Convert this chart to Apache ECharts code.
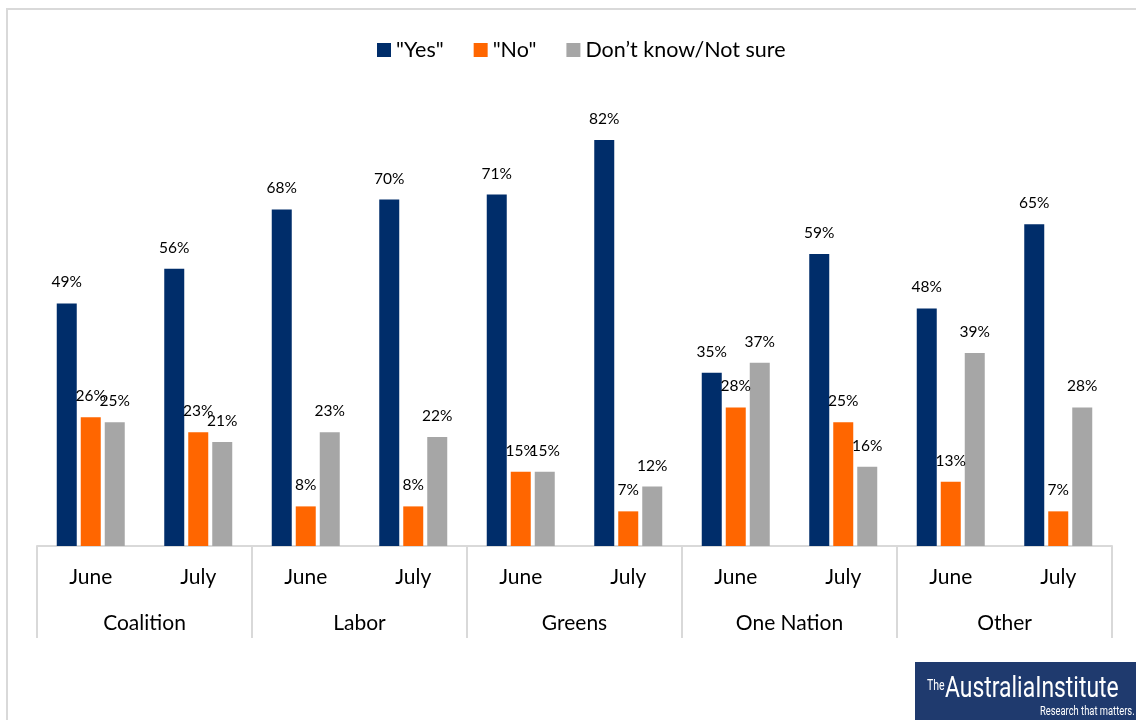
<!DOCTYPE html>
<html><head><meta charset="utf-8">
<script src="https://cdn.jsdelivr.net/npm/echarts@6/dist/echarts.min.js"></script>
<style>html,body{margin:0;padding:0;background:#fff}#c{width:1136px;height:720px}</style>
</head><body><div id="c"></div>
<script>
const months = ['June','July','June','July','June','July','June','July','June','July'];
const parties = ['Coalition','Labor','Greens','One Nation','Other'];
const yesVals = [49,56,68,70,71,82,35,59,48,65];
const noVals = [26,23,8,8,15,7,28,25,13,7];
const dkVals = [25,21,23,22,15,12,37,16,39,28];
const seriesNames = ['"Yes"','"No"','Don\u2019t know/Not sure'];
const colors = ['#002D6A','#FF6600','#A6A6A6'];

const chart = echarts.init(document.getElementById('c'), null, {renderer:'canvas'});
const FONT = 'Lato, "Open Sans", sans-serif';
function mk(name, data, color){
  return {
    name, type:'bar', data, barWidth:20, barGap:'20%',
    itemStyle:{color},
    label:{show:true, position:'top', distance:13, formatter:'{c}%', color:'#000', fontSize:15.5, fontFamily:FONT},
    silent:true, animation:false
  };
}
chart.setOption({
  animation:false,
  textStyle:{fontFamily:FONT},
  legend:{
    top:34, left:372, itemWidth:14, itemHeight:14, itemGap:30,
    icon:'rect',
    textStyle:{fontSize:21.5, color:'#000', fontFamily:FONT},
    data:seriesNames
  },
  grid:{left:37, right:24, top:100.5, bottom:174, containLabel:false},
  xAxis:[
    {type:'category', data:months, position:'bottom',
     axisLine:{show:true, lineStyle:{color:'#D9D9D9', width:2}},
     axisTick:{show:false},
     axisLabel:{margin:21, fontSize:21, color:'#000', fontFamily:FONT, interval:0}},
    {type:'category', data:parties, position:'bottom', offset:0,
     axisLine:{show:false},
     axisTick:{show:true, length:92, inside:false, lineStyle:{color:'#D9D9D9', width:2}},
     axisLabel:{margin:67, fontSize:21, color:'#000', fontFamily:FONT, interval:0}}
  ],
  yAxis:{type:'value', min:0, max:90, show:false, splitLine:{show:false}},
  series:[mk(seriesNames[0], yesVals, colors[0]), mk(seriesNames[1], noVals, colors[1]), mk(seriesNames[2], dkVals, colors[2])],
  graphic:[
    {type:'rect', shape:{x:7, y:9, width:1300, height:900}, style:{fill:'none', stroke:'#D9D9D9', lineWidth:2}, silent:true, z:-1},
    {type:'rect', shape:{x:915, y:662, width:221, height:58}, style:{fill:'#1F3A6E'}, silent:true, z:10},
    {type:'text', x:927, y:679, scaleX:0.75, style:{text:'The', fill:'#fff', font:'14px Roboto, sans-serif'}, z:11},
    {type:'text', x:945, y:675, scaleX:0.79, style:{text:'AustraliaInstitute', fill:'#fff', font:'29px Roboto, sans-serif'}, z:11},
    {type:'text', x:1040, y:706, scaleX:0.78, style:{text:'Research that matters.', fill:'#fff', font:'12px Roboto, sans-serif'}, z:11}
  ]
});
</script></body></html>
